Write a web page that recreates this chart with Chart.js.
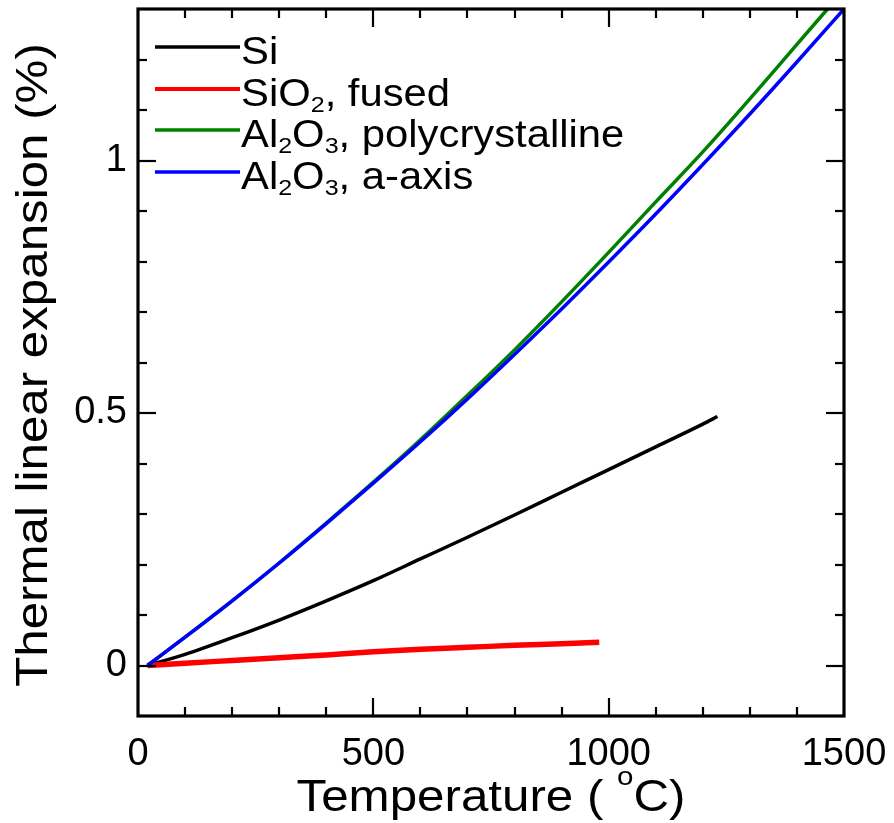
<!DOCTYPE html>
<html><head><meta charset="utf-8">
<script src="https://cdn.jsdelivr.net/npm/chart.js@4.4.1/dist/chart.umd.min.js"></script>
<style>html,body{margin:0;padding:0;background:#fff}#wrap{width:894px;height:823px;position:relative}</style>
</head><body><div id="wrap"><canvas id="c"></canvas></div>
<script>
// ---- data ----
const seriesLabels = [
  [["Si",0]],
  [["SiO",0],["2",1],[", fused",0]],
  [["Al",0],["2",1],["O",0],["3",1],[", polycrystalline",0]],
  [["Al",0],["2",1],["O",0],["3",1],[", a-axis",0]]
];
const seriesColors = ["#000000","#ff0000","#008000","#0000ff"];

const siTemp = [20,100,200,300,400,500,600,700,800,900,1000,1100,1200,1231];
const siExp  = [0,0.022,0.055,0.090,0.128,0.168,0.211,0.254,0.298,0.343,0.388,0.433,0.478,0.493];

const sio2Temp = [20,100,200,300,400,500,600,700,800,900,980];
const sio2Exp  = [0,0.0045,0.010,0.0155,0.021,0.027,0.032,0.036,0.040,0.043,0.046];

const polyTemp = [20,100,200,300,400,500,600,700,800,900,1000,1100,1200,1300,1400,1465];
const polyExp  = [0,0.056,0.128,0.203,0.282,0.363,0.447,0.535,0.625,0.720,0.818,0.918,1.017,1.122,1.230,1.300];

const aAxisTemp = [20,100,200,300,400,500,600,700,800,900,1000,1100,1200,1300,1400,1500];
const aAxisExp  = [0,0.056,0.128,0.203,0.281,0.361,0.443,0.528,0.616,0.706,0.799,0.894,0.992,1.092,1.195,1.300];

const xMajorTicks = [0,500,1000,1500];
const yMajorTicks = [0,0.5,1];
const xTitleParts = [["Temperature ( ",0],["o",2],["C)",0]];
const yTitleParts = [["Thermal linear expansion (%)",0]];

// ---- drawing ----
const FONT = '"Liberation Sans", Arial, Helvetica, sans-serif';
function pts(xs, ys){ return xs.map((x,i)=>({x:x,y:ys[i]})); }

function richWidth(ctx, parts, size){
  let w=0;
  for (const [t,k] of parts){ ctx.font=(k===0?size:size*0.6)+'px '+FONT; w+=ctx.measureText(t).width; }
  return w;
}
function drawRich(ctx, x, y, parts, size, stretch){
  ctx.save(); ctx.translate(x,y); ctx.scale(stretch,1);
  ctx.textBaseline='alphabetic'; ctx.textAlign='left'; ctx.fillStyle='#000';
  let cx=0;
  for (const [t,k] of parts){
    const s = k===0?size:size*0.6;
    ctx.font = s+'px '+FONT;
    const dy = k===1 ? size*0.16 : (k===2 ? -size*0.59 : 0);
    ctx.fillText(t,cx,dy);
    cx += ctx.measureText(t).width;
  }
  ctx.restore();
}

const decor = {
  id:'decor',
  afterDatasetsDraw(chart){
    const ctx=chart.ctx, a=chart.chartArea, xs=chart.scales.x, ys=chart.scales.y;
    ctx.save();
    ctx.strokeStyle='#000'; ctx.lineWidth=2.2; ctx.lineCap='butt';
    // x ticks (bottom and top, inward)
    for (let v=xs.min; v<=xs.max+1e-9; v+=100){
      if (v<=xs.min+1e-9 || v>=xs.max-1e-9) continue;
      const px=Math.round(xs.getPixelForValue(v));
      const len = xMajorTicks.includes(Math.round(v)) ? 18 : 9;
      ctx.beginPath(); ctx.moveTo(px,a.bottom); ctx.lineTo(px,a.bottom-len); ctx.stroke();
      ctx.beginPath(); ctx.moveTo(px,a.top); ctx.lineTo(px,a.top+len); ctx.stroke();
    }
    // y ticks (left and right, inward)
    for (let i=-1;i<=13;i++){
      const v=i/10;
      if (v<=ys.min+1e-9 || v>=ys.max-1e-9) continue;
      const py=Math.round(ys.getPixelForValue(v));
      const len = yMajorTicks.some(m=>Math.abs(m-v)<1e-9) ? 18 : 9;
      ctx.beginPath(); ctx.moveTo(a.left,py); ctx.lineTo(a.left+len,py); ctx.stroke();
      ctx.beginPath(); ctx.moveTo(a.right,py); ctx.lineTo(a.right-len,py); ctx.stroke();
    }
    // frame
    ctx.lineWidth=3.2;
    ctx.strokeRect(a.left,a.top,a.right-a.left,a.bottom-a.top);
    // legend
    const lx0=155, lx1=240, ly=[47,89,130,172];
    chart.data.datasets.forEach((ds,i)=>{
      ctx.strokeStyle=seriesColors[i]; ctx.lineWidth=i===1?4:3.5;
      ctx.beginPath(); ctx.moveTo(lx0,ly[i]); ctx.lineTo(lx1,ly[i]); ctx.stroke();
      drawRich(ctx, lx1+1, ly[i]+16.5, seriesLabels[i], 38, 1.1);
    });
    ctx.restore();
  },
  afterDraw(chart){
    const ctx=chart.ctx, a=chart.chartArea;
    ctx.save();
    // x title
    const sx=1.12, fs=44;
    const wx=richWidth(ctx,xTitleParts,fs)*sx;
    drawRich(ctx,(a.left+a.right)/2-wx/2,811,xTitleParts,fs,sx);
    // y title
    const sy=1.12;
    const wy=richWidth(ctx,yTitleParts,fs)*sy;
    ctx.translate(47,365); ctx.rotate(-Math.PI/2);
    drawRich(ctx,-wy/2,0,yTitleParts,fs,sy);
    ctx.restore();
  }
};

new Chart(document.getElementById('c'),{
  type:'line',
  data:{datasets:[
    {label:'Si', data:pts(siTemp,siExp), borderColor:seriesColors[0], borderWidth:3.5, order:4},
    {label:'SiO2, fused', data:pts(sio2Temp,sio2Exp), borderColor:seriesColors[1], borderWidth:5.5, order:3},
    {label:'Al2O3, polycrystalline', data:pts(polyTemp,polyExp), borderColor:seriesColors[2], borderWidth:3.5, order:2},
    {label:'Al2O3, a-axis', data:pts(aAxisTemp,aAxisExp), borderColor:seriesColors[3], borderWidth:3.5, order:1}
  ]},
  options:{
    responsive:true, maintainAspectRatio:false, animation:false,
    layout:{padding:{left:0,top:9,right:50,bottom:0}},
    plugins:{legend:{display:false}, tooltip:{enabled:false}},
    elements:{point:{radius:0}, line:{cubicInterpolationMode:'monotone', borderCapStyle:'butt', fill:false}},
    scales:{
      x:{type:'linear', min:0, max:1500,
        afterBuildTicks:s=>{s.ticks=xMajorTicks.map(v=>({value:v}));},
        afterFit:s=>{s.height=107; s.paddingLeft=0; s.paddingRight=0;},
        grid:{display:false, drawTicks:false}, border:{display:false},
        ticks:{font:{family:FONT,size:38}, color:'#000', padding:16, maxRotation:0, autoSkip:false, callback:v=>String(v)}},
      y:{type:'linear', min:-0.1, max:1.3,
        afterBuildTicks:s=>{s.ticks=yMajorTicks.map(v=>({value:v}));},
        afterFit:s=>{s.width=138; s.paddingTop=0; s.paddingBottom=0;},
        grid:{display:false, drawTicks:false}, border:{display:false},
        ticks:{font:{family:FONT,size:38}, color:'#000', padding:11, autoSkip:false, callback:v=>String(v)}}
    }
  },
  plugins:[decor]
});
</script></body></html>
